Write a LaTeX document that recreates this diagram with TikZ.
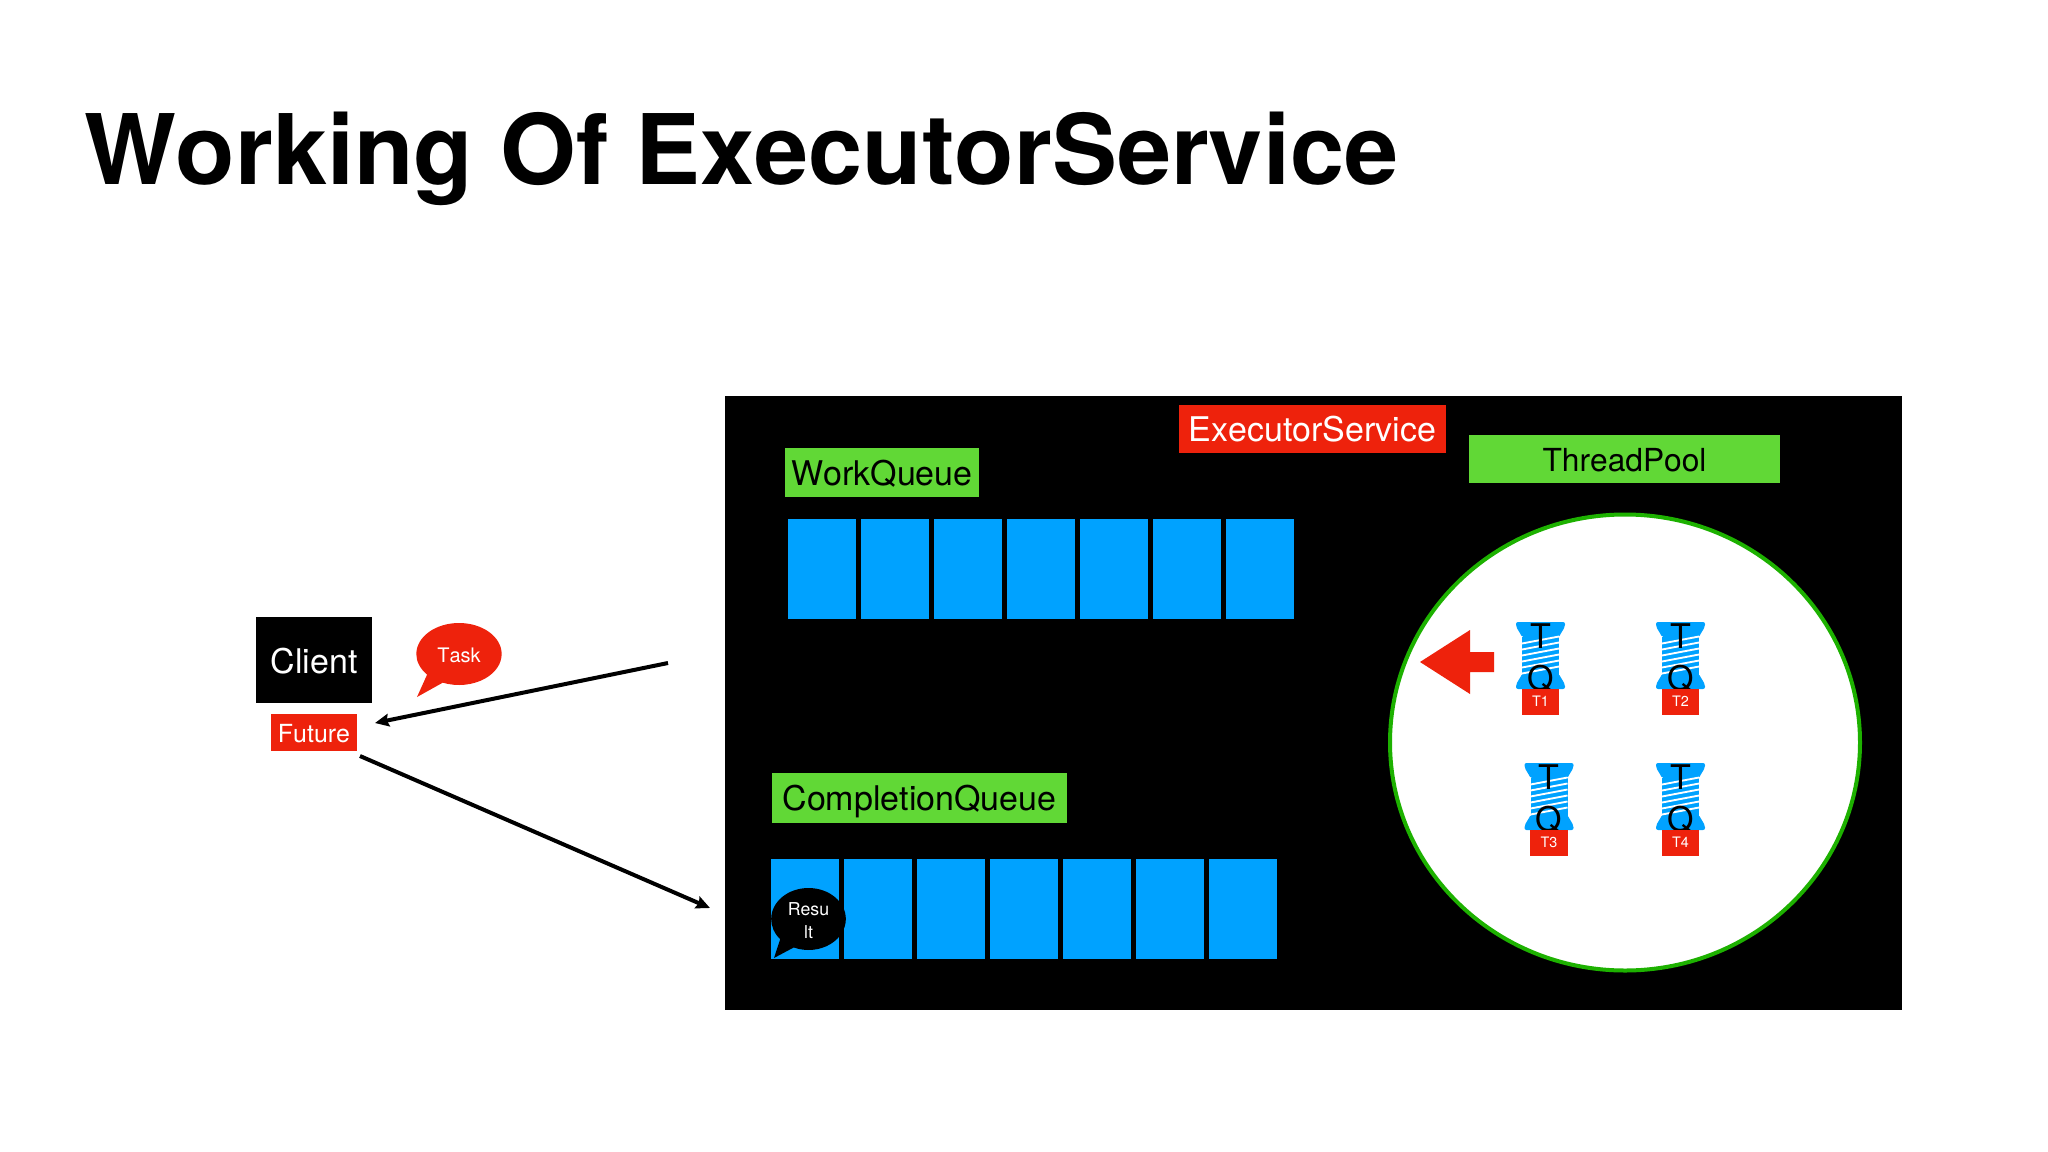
\documentclass[tikz,border=0pt]{standalone}
\usepackage{fontspec}
\setmainfont[RawFeature=-kern]{TeX Gyre Heros}
\usepackage{tikz}
\usetikzlibrary{shapes.geometric, shapes.callouts, arrows.meta}
\definecolor{kred}{HTML}{EE220C}
\definecolor{kgreen}{HTML}{61D836}
\definecolor{kblue}{HTML}{00A2FF}
\definecolor{kring}{HTML}{1DB100}
\tikzset{
    x=0.75pt, y=-0.75pt, % one unit is one pixel of the slide
    >={Stealth[length=10.5pt, width=9.5pt, inset=1.5pt]},
    every node/.style={inner sep=0pt, outer sep=0pt},
    flow/.style={->, line width=3pt}, % the two long arrows
    cell/.style={fill=kblue, minimum width=51.4pt, minimum height=75pt},
    tag/.style={fill=kgreen, text=black, font=\fontsize{25.5}{30}\selectfont, text height=19.6pt, text depth=0pt},
    redtag/.style={fill=kred, text=white, font=\fontsize{#1}{30}\selectfont},
    bubble/.style={ellipse callout, callout pointer arc=26, fill=#1, text=white, align=center},
    spool/.pic={
        \fill[kblue, rounded corners=1.5] (-24.5,-33.5) -- (24.5,-33.5) -- (24.5,-29) -- (18,-18) -- (-18,-18) -- (-24.5,-29) -- cycle;
        \fill[kblue, rounded corners=1.5] (-24.5,33.5) -- (24.5,33.5) -- (24.5,29) -- (18,18) -- (-18,18) -- (-24.5,29) -- cycle;
        \fill[kblue] (-18.5,-19) rectangle (18.5,19);
        \foreach \s in {-12,-6,0,6,12,18}
            \draw[white, line width=1.4pt] (-18.5,\s) -- (18.5,\s-7);
        \node[anchor=base, font=\fontsize{25.5}{30}\selectfont] (-upper) at (0,-7.5) {T};
        \node[anchor=base, font=\fontsize{25.5}{30}\selectfont] (-lower) at (0,35) {Q};
    },
}
\begin{document}
\begin{tikzpicture}
    \useasboundingbox (0,0) rectangle (2048,1152);
    \node[anchor=base west, font=\bfseries\fontsize{73}{80}\selectfont] (title) at (84,185) {Working Of ExecutorService};

    % left side
    \node[fill=black, text=white, font=\fontsize{25.5}{30}\selectfont, text height=20pt, text depth=0pt, minimum width=87pt, minimum height=64.5pt] (client) at (314,660) {Client};
    \node[redtag=18.7, text height=15pt, text depth=0pt, minimum width=64.5pt, minimum height=27.75pt] (future) at (314,732.5) {Future};
    \node[bubble=kred, font=\fontsize{15}{18}\selectfont, text height=12.4pt, text depth=0pt, minimum width=64pt, minimum height=46.5pt, callout absolute pointer={(417,697)}] (task) at (459,654) {Task};

    % panel
    \fill[black] (725,396) rectangle (1902,1010);
    \node[redtag=25.5, minimum width=200pt, minimum height=36pt] (executor) at (1312.5,429) {ExecutorService};
    \node[tag, minimum width=145.5pt, minimum height=36.75pt] (workqueue) at (882,472.5) {WorkQueue};
    \node[tag, text height=18.7pt, minimum width=221pt, minimum height=37.5pt] (completionqueue) at (919.5,798) {CompletionQueue};
    \node[tag, text height=18.7pt, font=\fontsize{23.8}{28}\selectfont, minimum width=233pt, minimum height=36pt] (threadpool) at (1624.5,459) {ThreadPool};

    \foreach \i in {1,...,7} {
        \node[cell] (wq\i) at ({822+73*(\i-1)},569) {};
        \node[cell] (cq\i) at ({805+73*(\i-1)},909) {};
    }
    \node[bubble=black, font=\fontsize{13.3}{16.7}\selectfont, minimum width=56pt, minimum height=46.5pt, callout absolute pointer={(774,958)}] (result) at (808.5,919) {\rule{0pt}{12pt}Resu\\lt};

    % thread pool
    \draw[kring, fill=white, line width=3pt] (1625,742.5) ellipse (235 and 228);
    \fill[kred] (1420,662) -- (1470,630) -- (1470,652) -- (1494,652) -- (1494,672) -- (1470,672) -- (1470,694) -- cycle;

    \pic (s1) at (1540.5,655.5) {spool};
    \pic (s2) at (1680.5,655.5) {spool};
    \pic (s3) at (1549,796.5) {spool};
    \pic (s4) at (1680.5,796.5) {spool};
    \node[redtag=10.8, minimum width=28pt, minimum height=19.5pt] (t1) at (1540.5,701.5) {T1};
    \node[redtag=10.8, minimum width=28pt, minimum height=19.5pt] (t2) at (1680.5,701.5) {T2};
    \node[redtag=10.8, minimum width=28pt, minimum height=19.5pt] (t3) at (1549,842.5) {T3};
    \node[redtag=10.8, minimum width=28pt, minimum height=19.5pt] (t4) at (1680.5,842.5) {T4};

    % arrows
    \coordinate (backstart) at (668,663);
    \coordinate (backend) at (375,723);
    \coordinate (sendstart) at (360,756);
    \coordinate (sendend) at (710,908);
    \draw[flow] (backstart) -- (backend);
    \draw[flow] (sendstart) -- (sendend);
\end{tikzpicture}
\end{document}
